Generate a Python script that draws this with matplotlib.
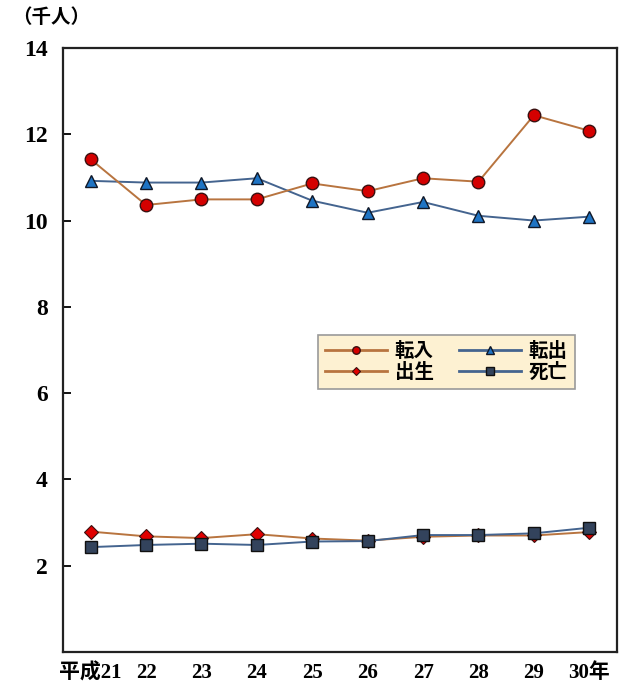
import matplotlib
matplotlib.use("Agg")
import matplotlib.pyplot as plt

# categories (平成21 .. 30年)
YEARS = ["平成21", "22", "23", "24", "25", "26", "27", "28", "29", "30年"]

# values in 千人
TENNYU = [11.42, 10.36, 10.49, 10.49, 10.86, 10.68, 10.98, 10.90, 12.44, 12.08]
TENSHUTSU = [10.92, 10.88, 10.88, 10.98, 10.46, 10.18, 10.43, 10.11, 10.00, 10.09]
SHUSSEI = [2.79, 2.68, 2.64, 2.73, 2.63, 2.58, 2.67, 2.70, 2.70, 2.78]
SHIBOU = [2.43, 2.48, 2.51, 2.48, 2.56, 2.57, 2.71, 2.71, 2.75, 2.88]

YTICKS = [2, 4, 6, 8, 10, 12, 14]

FONT = ["Liberation Serif", "Noto Sans CJK JP", "DejaVu Sans"]
plt.rcParams["font.family"] = FONT

BROWN = "#b8743f"
BLUE_LINE = "#44648f"

fig = plt.figure(figsize=(6.21, 6.93), dpi=100)
ax = fig.add_axes([0.1014, 0.0592, 0.8921, 0.8716])

x = range(len(YEARS))
ax.plot(x, TENNYU, color=BROWN, lw=1.4, marker="o", ms=9,
        mfc="#d40000", mec="#3a1010", mew=1.0, label="転入", zorder=4)
ax.plot(x, SHUSSEI, color=BROWN, lw=1.4, marker="D", ms=7,
        mfc="#e00000", mec="#3a1010", mew=0.8, label="出生", zorder=3)
ax.plot(x, TENSHUTSU, color=BLUE_LINE, lw=1.4, marker="^", ms=9,
        mfc="#1f74c4", mec="#101828", mew=1.0, label="転出", zorder=3)
ax.plot(x, SHIBOU, color=BLUE_LINE, lw=1.4, marker="s", ms=9,
        mfc="#33435c", mec="#101010", mew=1.0, label="死亡", zorder=4)

ax.set_xlim(-0.5, len(YEARS) - 0.5)
ax.set_ylim(0, 14)
ax.set_yticks(YTICKS)
ax.set_yticklabels([str(t) for t in YTICKS], fontsize=17, fontweight="bold")
ax.set_xticks(list(x))
ax.set_xticklabels(YEARS, fontsize=15, fontweight="bold")
ax.tick_params(axis="y", direction="in", length=6, width=1.3, pad=11)
ax.tick_params(axis="x", length=0, pad=8)
for s in ax.spines.values():
    s.set_linewidth(1.6)
    s.set_color("#222222")

leg = ax.legend(ncol=2, loc="upper left", bbox_to_anchor=(0.46, 0.525),
                borderaxespad=0, handlelength=3.2, columnspacing=1.3,
                labelspacing=0.1, handletextpad=0.4, borderpad=0.35,
                markerscale=0.6, fancybox=False, framealpha=1,
                edgecolor="#9a9a9a", facecolor="#fdf1d2",
                prop={"family": FONT, "size": 14, "weight": "bold"})
leg.get_frame().set_linewidth(1.2)
for ln in leg.get_lines():
    ln.set_linewidth(2.0)

fig.text(12 / 621, 1 - 18 / 693, "（千人）", fontsize=14, fontweight="bold",
         va="center", ha="left")

fig.savefig("out.png", dpi=100)
